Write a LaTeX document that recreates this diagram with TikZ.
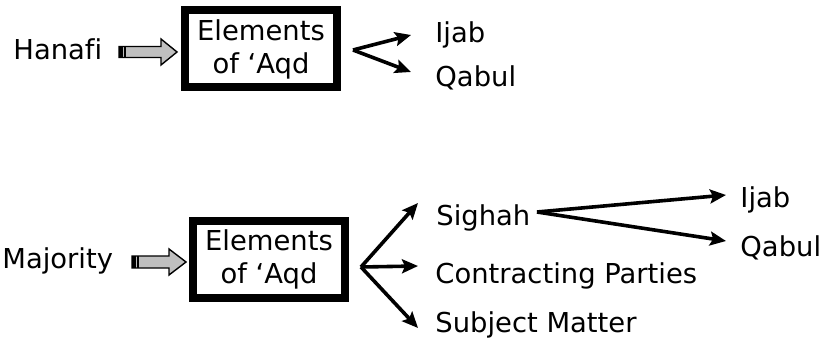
\documentclass[tikz,border=0pt]{standalone}
\usepackage{fontspec}
\setmainfont{DejaVu Sans}[Ligatures=NoCommon]
\usetikzlibrary{arrows.meta}

\tikzset{
    txt/.style={anchor=base west,inner sep=0pt,font=\fontsize{13.7}{16.5}\selectfont},
    elembox/.style={draw,line width=4pt,minimum width=76pt,minimum height=38.5pt,inner sep=0pt,align=center,font=\fontsize{13.7}{16.5}\selectfont},
    fork/.style={line width=1.8pt,-{Stealth[length=8pt,width=7pt,inset=1.5pt]}},
    blockarr/.style={fill=black!25,draw=black,line width=0.7pt,line join=miter}
}

\begin{document}
\begin{tikzpicture}[x=0.5pt,y=-0.5pt]
        \useasboundingbox (0,0) rectangle (822,352);
        % upper row
        \node[txt] (hanafi) at (13,60) {Hanafi};
        \node[elembox] (boxA) at (261,49) {Elements\\of `Aqd};
        \draw[blockarr] (119,46.5) -- (161,46.5) -- (161,39) -- (177,52) -- (161,65) -- (161,57.5) -- (119,57.5) -- cycle;
        \fill (119,46.5) rectangle (122.5,57.5);
        \fill (124,46.5) rectangle (126,57.5);
        \node[txt] (ijabA) at (435,43) {Ijab};
        \node[txt] (qabulA) at (435,87) {Qabul};
        \coordinate (forkA) at (353,50);
        \coordinate (tipA1) at (411,35);
        \coordinate (tipA2) at (411,72);
        \draw[fork] (forkA) -- (tipA1);
        \draw[fork] (forkA) -- (tipA2);
        % lower row
        \node[txt] (majority) at (2,268) {Majority};
        \node[elembox] (boxB) at (269,259.5) {Elements\\of `Aqd};
        \draw[blockarr] (132,256) -- (169,256) -- (169,249) -- (186,262) -- (169,275) -- (169,268) -- (132,268) -- cycle;
        \fill (132,256) rectangle (135.5,268);
        \fill (137,256) rectangle (139,268);
        \node[txt] (sighah) at (436,225) {Sighah};
        \node[txt] (parties) at (435,283) {Contracting Parties};
        \node[txt] (subject) at (435,332) {Subject Matter};
        \node[txt] (ijabB) at (740,207) {Ijab};
        \node[txt] (qabulB) at (740,256) {Qabul};
        \coordinate (forkB) at (361,267);
        \coordinate (tipB1) at (418,203);
        \coordinate (tipB2) at (418,266);
        \coordinate (tipB3) at (418,328);
        \draw[fork] (forkB) -- (tipB1);
        \draw[fork] (forkB) -- (tipB2);
        \draw[fork] (forkB) -- (tipB3);
        \coordinate (forkC) at (537,212);
        \coordinate (tipC1) at (726,195);
        \coordinate (tipC2) at (726,241);
        \draw[fork] (forkC) -- (tipC1);
        \draw[fork] (forkC) -- (tipC2);
    \end{tikzpicture}
\end{document}
